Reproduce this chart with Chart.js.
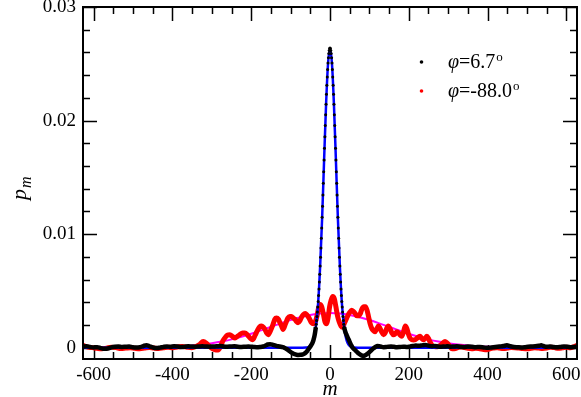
<!DOCTYPE html>
<html>
<head>
<meta charset="utf-8">
<script src="https://cdn.jsdelivr.net/npm/chart.js@4/dist/chart.umd.min.js"></script>
<style>
  html, body { margin: 0; padding: 0; background: #fff; }
  #wrap { position: relative; width: 581px; height: 397px; }
</style>
</head>
<body>
<div id="wrap"><canvas id="pm" width="581" height="397"></canvas></div>
<script>
// axis ticks
const xTicks = [-600, -400, -200, 0, 200, 400, 600];
const yTicks = [0, 0.01, 0.02, 0.03];
const yTickLabels = ['0', '0.01', '0.02', '0.03'];

// phi = 6.7 deg (black dots)
const blackM = [
  -627, -618, -609, -600, -591, -582, -573, -564, -555, -546, -537, -528, -519, -510, -501, -492, -483, -474, -466, -458,
  -450, -441, -432, -423, -414, -405, -396, -387, -378, -369, -360, -351, -342, -333, -324, -315, -306, -297, -288, -279,
  -270, -261, -252, -243, -234, -225, -216, -207, -200, -194, -186, -178, -170, -164, -158, -152, -144, -136, -128, -120,
  -115, -110, -105, -100, -95, -90, -85, -80, -75, -70, -66, -62, -58, -54, -50, -47, -45, -44, -43, -42,
  -41, -40, -39, -38, -37, -36, -35, -34, -33, -32, -31, -30, -29, -28, -27, -26, -25, -24, -23, -22,
  -21, -20, -19, -18, -17, -16, -15, -14, -13, -12, -11, -10, -9, -8, -7, -6, -5, -4, -3, -2,
  -1, 0, 1, 2, 3, 4, 5, 6, 7, 8, 9, 10, 11, 12, 13, 14, 15, 16, 17, 18,
  19, 20, 21, 22, 23, 24, 25, 26, 27, 28, 29, 30, 31, 32, 33, 34, 35, 36, 37, 38,
  39, 40, 41, 42, 43, 44, 45, 47, 49, 51, 54, 57, 60, 64, 68, 72, 76, 80, 84, 88,
  92, 96, 100, 104, 108, 112, 116, 120, 125, 130, 136, 142, 148, 155, 162, 170, 178, 186, 194, 202,
  210, 218, 226, 234, 242, 250, 258, 266, 274, 282, 290, 298, 306, 314, 322, 330, 340, 350, 360, 370,
  380, 390, 400, 410, 420, 430, 440, 449, 458, 467, 476, 485, 494, 503, 512, 521, 530, 536, 542, 550,
  558, 566, 576, 585, 594, 603, 612, 620, 627
];
const blackP = [
  0.0001, 0.00012, 0.00006, 0.00002, 0.00004, -0.00004, -0.0001, -0.00008, 0.00002, 0.00008, 0.0001, 0.00006, 0.00008, 0.0001, 0.00004, 0.00002, 0.00004, 0.00014, 0.00022, 0.00012,
  0.00002, -0.00004, 0.0, 0.00006, 0.0001, 0.00008, 0.00012, 0.0001, 0.00006, 0.00008, 0.00012, 0.0001, 0.00008, 0.0001, 0.00012, 0.0001, 0.00008, 0.0001, 0.00012, 0.00014,
  0.0001, 0.00008, 0.0001, 0.00012, 0.00008, 0.00006, 0.00008, 0.0001, 0.00008, 0.00006, 0.00004, 0.00006, 0.0001, 0.00018, 0.00028, 0.0003, 0.00024, 0.00016, 0.0001, 0.00004,
  -0.00003, -0.00012, -0.00025, -0.00038, -0.0005, -0.00058, -0.00062, -0.00064, -0.00063, -0.0006, -0.00055, -0.00045, -0.0003, -0.0001, 0.0001, 0.00026, 0.00039, 0.00047, 0.00056, 0.00067,
  0.0008, 0.00094, 0.00111, 0.00131, 0.00153, 0.00178, 0.00206, 0.00238, 0.00274, 0.00313, 0.00357, 0.00406, 0.00459, 0.00516, 0.00579, 0.00647, 0.00719, 0.00796, 0.00878, 0.00964,
  0.01054, 0.01148, 0.01246, 0.01345, 0.01447, 0.0155, 0.01653, 0.01756, 0.01857, 0.01956, 0.02052, 0.02144, 0.02231, 0.02311, 0.02384, 0.02449, 0.02506, 0.02553, 0.02591, 0.02618,
  0.02634, 0.0264, 0.02634, 0.02618, 0.02591, 0.02553, 0.02506, 0.02449, 0.02384, 0.02311, 0.02231, 0.02144, 0.02052, 0.01956, 0.01857, 0.01756, 0.01653, 0.0155, 0.01447, 0.01345,
  0.01246, 0.01148, 0.01054, 0.00964, 0.00878, 0.00796, 0.00719, 0.00647, 0.00579, 0.00516, 0.00459, 0.00406, 0.00357, 0.00313, 0.00274, 0.00238, 0.00206, 0.0018, 0.00162, 0.0015,
  0.00138, 0.00128, 0.0012, 0.00112, 0.00104, 0.00096, 0.00088, 0.00074, 0.00058, 0.00042, 0.0002, 0.00002, -0.0001, -0.00022, -0.00036, -0.0005, -0.0006, -0.00068, -0.00072, -0.0007,
  -0.00062, -0.00052, -0.0004, -0.00027, -0.00013, -0.00002, 0.00008, 0.00014, 0.00013, 0.00008, 0.00004, 0.00005, 0.00008, 0.0001, 0.00007, 0.00004, 0.00006, 0.00008, 0.00006, 0.00009,
  0.00014, 0.00018, 0.00016, 0.0002, 0.00024, 0.00018, 0.00012, 0.00015, 0.0001, 0.00008, 0.0001, 0.00012, 0.00008, 0.0001, 0.00012, 0.00008, 0.00006, 0.0001, 0.00008, 0.00004,
  0.00006, 0.00002, -0.00002, 0.00002, 0.00006, 0.0001, 0.00014, 0.0002, 0.00012, 0.00006, 0.00004, 0.00002, 0.00004, 0.00008, 0.0001, 0.00012, 0.00016, 0.0002, 0.00014, 0.00008,
  0.0001, 0.00006, 0.00003, 0.00006, 0.0001, 0.00008, 0.00004, 0.00006, 0.00008
];

// phi = -88.0 deg (red dots)
const redM = [
  -627, -615, -603, -591, -579, -567, -555, -543, -531, -519, -507, -495, -483, -471, -459, -447, -435, -423, -411, -399,
  -387, -375, -363, -351, -340, -330, -322, -314, -306, -298, -290, -284, -278, -272, -267, -261, -254, -248, -241, -235,
  -229, -222, -216, -209, -203, -196, -190, -183, -178, -174, -169, -165, -161, -157, -151, -145, -140, -136, -131, -127,
  -123, -119, -113, -107, -102, -98, -93, -89, -85, -81, -76, -72, -68, -63, -59, -53, -47, -42, -38, -33,
  -29, -25, -21, -17, -13, -9, -5, -1, 3, 7, 11, 15, 19, 23, 28, 32, 36, 41, 45, 50,
  55, 59, 64, 68, 72, 77, 81, 86, 90, 94, 98, 102, 106, 110, 114, 118, 123, 127, 131, 136,
  140, 144, 148, 152, 157, 161, 165, 170, 174, 178, 182, 186, 191, 195, 199, 203, 208, 212, 216, 220,
  225, 229, 233, 237, 241, 246, 250, 254, 258, 263, 268, 274, 280, 286, 292, 298, 304, 310, 318, 326,
  334, 342, 350, 360, 370, 380, 390, 398, 406, 414, 422, 430, 440, 450, 460, 470, 480, 490, 500, 510,
  520, 530, 540, 550, 560, 570, 580, 590, 600, 610, 620, 627
];
const redP = [
  0.0002, 0.00005, 0.0, -0.00006, -0.0001, -0.00004, 0.00004, 0.0, -0.00008, -0.00004, 0.0, -0.00006, -0.0001, -0.00004, 0.00002, -0.00004, -0.00008, -0.00002, 0.00004, 0.0,
  0.00006, 0.0001, 0.00004, 0.0, 0.0001, 0.0003, 0.00055, 0.0004, 0.0001, -0.0001, -0.0002, -0.0002, 0.0001, 0.0006, 0.00085, 0.0011, 0.00114, 0.001, 0.00085, 0.001,
  0.00114, 0.0013, 0.0013, 0.0011, 0.00085, 0.0007, 0.0011, 0.0016, 0.00185, 0.0019, 0.0018, 0.0016, 0.0013, 0.00114, 0.0015, 0.002, 0.0025, 0.0026, 0.0025, 0.0022,
  0.0019, 0.0016, 0.0021, 0.0026, 0.00275, 0.00275, 0.0026, 0.0025, 0.0023, 0.0022, 0.0024, 0.0027, 0.0029, 0.003, 0.0029, 0.0026, 0.0022, 0.0021, 0.0022, 0.0028,
  0.0035, 0.0038, 0.0036, 0.003, 0.0023, 0.0021, 0.0026, 0.0036, 0.0042, 0.0045, 0.0043, 0.0036, 0.0028, 0.0023, 0.0019, 0.0018, 0.0021, 0.0025, 0.0028, 0.0031,
  0.0033, 0.0032, 0.003, 0.0028, 0.0028, 0.003, 0.0034, 0.0036, 0.0036, 0.0033, 0.0027, 0.0021, 0.0017, 0.0015, 0.0014, 0.0016, 0.0019, 0.0017, 0.0014, 0.00114,
  0.0013, 0.0017, 0.0019, 0.0017, 0.0013, 0.00114, 0.0012, 0.0014, 0.0013, 0.0011, 0.001, 0.0013, 0.0019, 0.0017, 0.0012, 0.00085, 0.0007, 0.00068, 0.0007, 0.0008,
  0.00095, 0.001, 0.0008, 0.0007, 0.0008, 0.001, 0.0008, 0.0005, 0.00026, 0.0001, 0.00008, 0.0001, 0.0002, 0.0004, 0.00055, 0.0004, 0.0001, -0.0001, -0.00008, 0.00002,
  0.00006, 0.0, -0.00006, -0.0001, -0.00006, -0.0001, -0.00016, -0.00018, -0.0001, -0.00004, 0.0, -0.00004, -0.00008, -0.00004, 0.00002, 0.0, -0.00004, -0.00008, -0.0001, -0.00006,
  0.0, -0.00004, -0.00008, -0.00004, 0.00004, 0.0, -0.00006, -0.00002, 0.00004, 0.0, 0.0001, 0.0002
];

// gaussian fits
const fitNarrowM = [-627, -300, -100, -70, -60, -55, -50, -45, -40, -35, -30, -25, -20, -15, -10, -5, 0, 5, 10, 15, 20, 25, 30, 35, 40, 45, 50, 55, 60, 70, 100, 300, 627];
const fitNarrowP = [0, 0, 0, 0, 0.00001, 0.00005, 0.00015, 0.00039, 0.00094, 0.0021, 0.0040, 0.0072, 0.0114, 0.0165, 0.0214, 0.0250, 0.0263, 0.0250, 0.0214, 0.0165, 0.0114, 0.0072, 0.0040, 0.0021, 0.00094, 0.00039, 0.00015, 0.00005, 0.00001, 0, 0, 0, 0];
const fitWideM = [-627, -550, -500, -450, -400, -375, -350, -325, -300, -275, -250, -225, -200, -175, -150, -125, -100, -75, -50, -25, 0, 25, 50, 75, 100, 125, 150, 175, 200, 225, 250, 275, 300, 325, 350, 375, 400, 450, 500, 550, 627];
const fitWideP = [0, 0, 0.00001, 0.00003, 0.00008, 0.00012, 0.00019, 0.00027, 0.00039, 0.00054, 0.00073, 0.00096, 0.00122, 0.00152, 0.00183, 0.00214, 0.00243, 0.00268, 0.00288, 0.00301, 0.00305, 0.00301, 0.00288, 0.00268, 0.00243, 0.00214, 0.00183, 0.00152, 0.00122, 0.00096, 0.00073, 0.00054, 0.00039, 0.00027, 0.00019, 0.00012, 0.00008, 0.00003, 0.00001, 0, 0];

const pts = (mArr, pArr) => mArr.map((m, i) => ({ x: m, y: pArr[i] }));

const SERIF = "'Liberation Serif', 'DejaVu Serif', serif";

// frame with inward major/minor ticks on all four sides
const framePlugin = {
  id: 'frame',
  beforeDatasetsDraw(chart) {
    const { ctx, chartArea: a, scales: { x, y } } = chart;
    ctx.save();
    ctx.strokeStyle = '#000';
    ctx.lineWidth = 1.5;
    ctx.beginPath();
    for (let v = -600; v <= 600; v += 50) {
      const px = Math.round(x.getPixelForValue(v)) + 0.5;
      const len = xTicks.includes(v) ? 14 : 7;
      ctx.moveTo(px, a.bottom); ctx.lineTo(px, a.bottom - len);
      ctx.moveTo(px, a.top); ctx.lineTo(px, a.top + len);
    }
    for (let k = 0; k <= 15; k++) {
      const v = k * 0.002;
      const py = Math.round(y.getPixelForValue(v)) + 0.5;
      const len = (k % 5 === 0) ? 14 : 7;
      ctx.moveTo(a.left, py); ctx.lineTo(a.left + len, py);
      ctx.moveTo(a.right, py); ctx.lineTo(a.right - len, py);
    }
    ctx.stroke();
    ctx.restore();
  },
  afterDatasetsDraw(chart) {
    const { ctx, chartArea: a } = chart;
    ctx.save();
    ctx.strokeStyle = '#000';
    ctx.lineWidth = 2;
    ctx.strokeRect(a.left, a.top, a.right - a.left, a.bottom - a.top);
    ctx.restore();
  }
};

// axis titles and the legend
const textPlugin = {
  id: 'texts',
  afterDraw(chart) {
    const { ctx } = chart;
    ctx.save();
    ctx.fillStyle = '#000';
    ctx.textBaseline = 'alphabetic';

    // x title
    ctx.font = `italic 21px ${SERIF}`;
    ctx.textAlign = 'center';
    ctx.fillText('m', 330, 395);

    // y title, rotated
    ctx.save();
    ctx.translate(26, 200);
    ctx.rotate(-Math.PI / 2);
    ctx.textAlign = 'left';
    ctx.font = `italic 22px ${SERIF}`;
    ctx.fillText('p', 0, 0);
    const pw = ctx.measureText('p').width;
    ctx.font = `italic 16px ${SERIF}`;
    ctx.fillText('m', pw + 1, 5);
    ctx.restore();

    // legend
    const rows = [
      { color: '#000', text: '=6.7', y: 68, dotY: 62 },
      { color: '#f00', text: '=-88.0', y: 97, dotY: 91 }
    ];
    ctx.textAlign = 'left';
    rows.forEach(r => {
      ctx.fillStyle = r.color;
      ctx.beginPath();
      ctx.arc(421.5, r.dotY, 1.8, 0, Math.PI * 2);
      ctx.fill();
      ctx.fillStyle = '#000';
      let x = 448;
      ctx.font = `italic 20px ${SERIF}`;
      ctx.fillText('φ', x, r.y);
      x += ctx.measureText('φ').width;
      ctx.font = `20px ${SERIF}`;
      ctx.fillText(r.text, x, r.y);
      x += ctx.measureText(r.text).width + 1;
      ctx.font = `13px ${SERIF}`;
      ctx.fillText('o', x, r.y - 7);
    });
    ctx.restore();
  }
};

new Chart(document.getElementById('pm'), {
  type: 'scatter',
  data: {
    datasets: [
      {
        label: 'φ=6.7°',
        data: pts(blackM, blackP),
        showLine: true,
        borderColor: '#000',
        borderWidth: 4.5,
        cubicInterpolationMode: 'monotone',
        segment: {
          borderColor: c => (Math.abs(c.p0.parsed.x) < 37 && Math.abs(c.p1.parsed.x) < 37) ? 'rgba(0,0,0,0)' : '#000'
        },
        pointRadius: 1.5,
        pointBackgroundColor: '#000',
        pointBorderWidth: 0
      },
      {
        label: 'fit 6.7',
        data: pts(fitNarrowM, fitNarrowP),
        showLine: true,
        borderColor: '#0000ff',
        borderWidth: 2.5,
        cubicInterpolationMode: 'monotone',
        pointRadius: 0
      },
      {
        label: 'φ=-88.0°',
        data: pts(redM, redP),
        showLine: true,
        borderColor: '#ff0000',
        borderWidth: 5,
        cubicInterpolationMode: 'monotone',
        pointRadius: 0
      },
      {
        label: 'fit -88.0',
        data: pts(fitWideM, fitWideP),
        showLine: true,
        borderColor: '#ff00ff',
        borderWidth: 2,
        cubicInterpolationMode: 'monotone',
        pointRadius: 0
      }
    ]
  },
  options: {
    responsive: false,
    animation: false,
    devicePixelRatio: 1,
    layout: { padding: { top: 7, right: 4, left: 0, bottom: 0 } },
    plugins: {
      legend: { display: false },
      tooltip: { enabled: false }
    },
    scales: {
      x: {
        type: 'linear',
        min: -627,
        max: 627,
        grid: { display: false, drawTicks: false },
        border: { display: false },
        ticks: {
          font: { family: SERIF, size: 19 },
          color: '#000',
          padding: 5,
          maxRotation: 0,
          autoSkip: false
        },
        afterBuildTicks: s => { s.ticks = xTicks.map(v => ({ value: v })); },
        afterFit: s => { s.height = 38; s.paddingLeft = 0; s.paddingRight = 0; }
      },
      y: {
        type: 'linear',
        min: -0.001,
        max: 0.03,
        grid: { display: false, drawTicks: false },
        border: { display: false },
        ticks: {
          font: { family: SERIF, size: 19 },
          color: '#000',
          padding: 7,
          callback: (v, i) => yTickLabels[i]
        },
        afterBuildTicks: s => { s.ticks = yTicks.map(v => ({ value: v })); },
        afterFit: s => { s.width = 83; s.paddingTop = 0; s.paddingBottom = 0; }
      }
    }
  },
  plugins: [framePlugin, textPlugin]
});
</script>
</body>
</html>
